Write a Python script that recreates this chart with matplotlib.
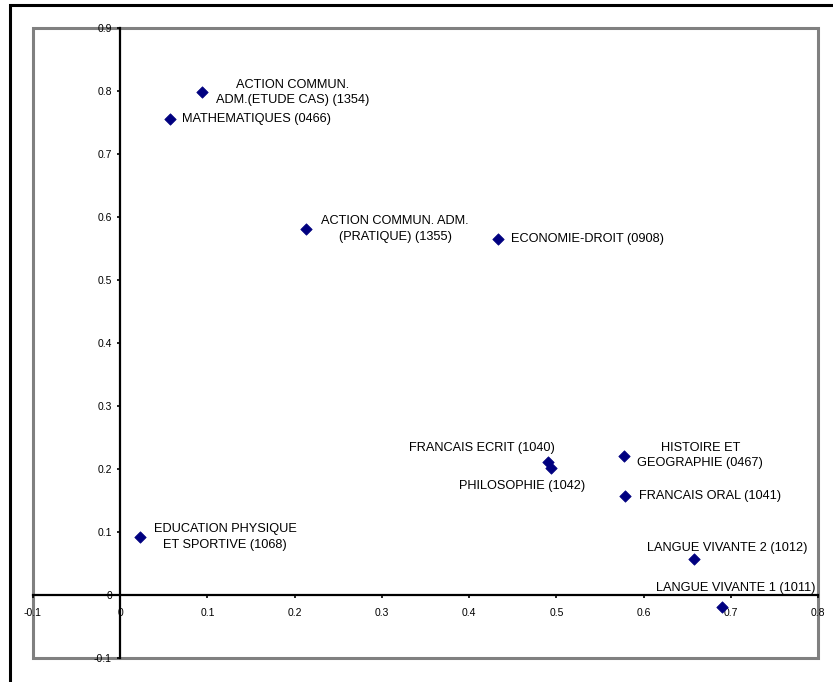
import matplotlib
matplotlib.use("Agg")
import matplotlib.pyplot as plt
from matplotlib.patches import Rectangle

plt.rcParams['font.family'] = ['Liberation Sans', 'DejaVu Sans']

# ---- data ----
labels = [
    "ACTION COMMUN.\nADM.(ETUDE CAS) (1354)",
    "MATHEMATIQUES (0466)",
    "ACTION COMMUN. ADM.\n(PRATIQUE) (1355)",
    "ECONOMIE-DROIT (0908)",
    "FRANCAIS ECRIT (1040)",
    "PHILOSOPHIE (1042)",
    "HISTOIRE ET\nGEOGRAPHIE (0467)",
    "FRANCAIS ORAL (1041)",
    "LANGUE VIVANTE 2 (1012)",
    "LANGUE VIVANTE 1 (1011)",
    "EDUCATION PHYSIQUE\nET SPORTIVE (1068)",
]
x_vals = [0.094, 0.057, 0.213, 0.433, 0.491, 0.494, 0.578, 0.579, 0.658, 0.690, 0.023]
y_vals = [0.798, 0.756, 0.581, 0.565, 0.211, 0.202, 0.221, 0.157, 0.057, -0.019, 0.092]

x_ticks = [-0.1, 0, 0.1, 0.2, 0.3, 0.4, 0.5, 0.6, 0.7, 0.8]
x_ticklabels = ["-0.1", "0", "0.1", "0.2", "0.3", "0.4", "0.5", "0.6", "0.7", "0.8"]
y_ticks = [-0.1, 0, 0.1, 0.2, 0.3, 0.4, 0.5, 0.6, 0.7, 0.8, 0.9]
y_ticklabels = ["-0.1", "0", "0.1", "0.2", "0.3", "0.4", "0.5", "0.6", "0.7", "0.8", "0.9"]

# label layout: (dx px, dy px, ha)
label_layout = [
    (90, 0, 'center'),
    (12, 0, 'left'),
    (89, 0, 'center'),
    (13, 0, 'left'),
    (-67, 14, 'center'),
    (-29, -18, 'center'),
    (76, 0, 'center'),
    (14, 0, 'left'),
    (33, 11, 'center'),
    (14, 19, 'center'),
    (85, 0, 'center'),
]

W, H = 833, 682
fig = plt.figure(figsize=(W / 100, H / 100), dpi=100)
fig.patch.set_facecolor('white')

# outer black border
fig.patches.append(Rectangle((10 / W, -0.05), 1.2, 1 - 5 / H + 0.05,
                             transform=fig.transFigure, fill=False,
                             edgecolor='black', linewidth=2.2, zorder=0))

left, right, top, bottom = 33, 818, 28, 658
ax = fig.add_axes([left / W, 1 - bottom / H, (right - left) / W, (bottom - top) / H])
ax.set_xlim(-0.1, 0.8)
ax.set_ylim(-0.1, 0.9)

for s in ['top', 'right']:
    ax.spines[s].set_visible(False)
ax.spines['left'].set_position(('data', 0))
ax.spines['bottom'].set_position(('data', 0))
for s in ['left', 'bottom']:
    ax.spines[s].set_linewidth(1.6)
    ax.spines[s].set_color('black')

ax.add_patch(Rectangle((0, 0), 1, 1, transform=ax.transAxes, fill=False,
                       edgecolor='#808080', linewidth=2.2, clip_on=False, zorder=0))

ax.set_xticks(x_ticks)
ax.set_xticklabels(x_ticklabels)
ax.set_yticks(y_ticks)
ax.set_yticklabels(y_ticklabels)
ax.tick_params(axis='both', direction='out', length=2, width=1.2, labelsize=7.5,
               colors='black')
ax.tick_params(axis='x', pad=7)
ax.tick_params(axis='y', pad=4)

ax.scatter(x_vals, y_vals, marker='D', s=34, color='#000080', zorder=5,
           edgecolors='#000080', linewidths=0.5)

for lab, xv, yv, (dx, dy, ha) in zip(labels, x_vals, y_vals, label_layout):
    ax.annotate(lab, (xv, yv), xytext=(dx * 0.72, dy * 0.72),
                textcoords='offset points', ha=ha, va='center',
                multialignment='center', fontsize=9.2, color='black',
                linespacing=1.35, zorder=6)

fig.savefig('out.png', dpi=100)
